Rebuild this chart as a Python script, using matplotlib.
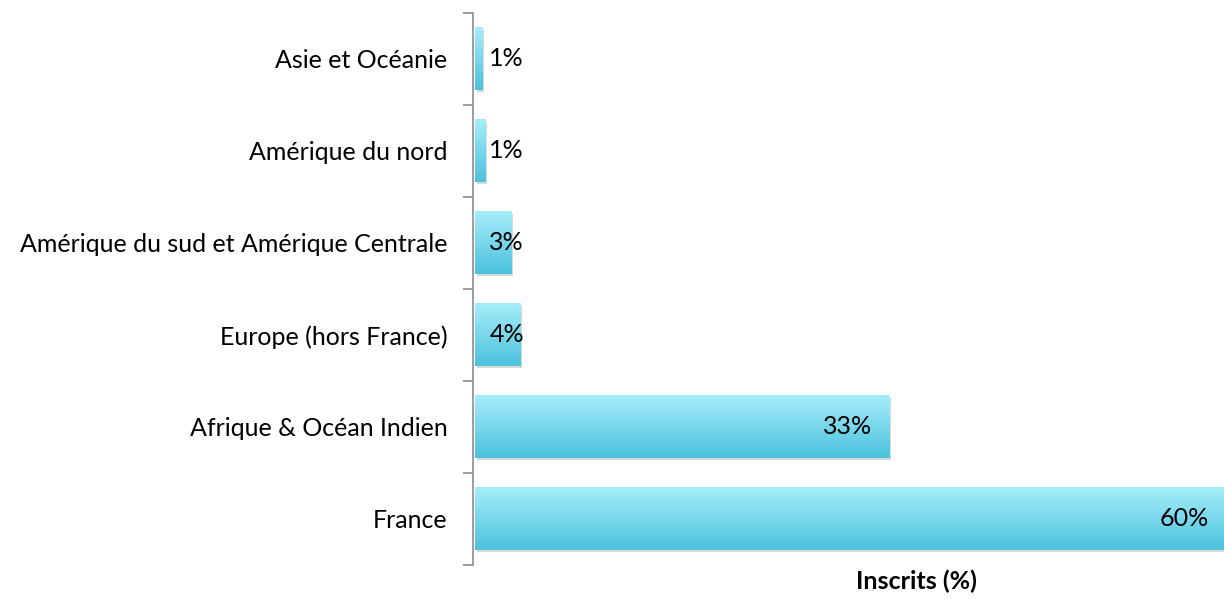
import matplotlib
matplotlib.use("Agg")
import matplotlib.pyplot as plt
import matplotlib.transforms as mtransforms
from matplotlib.colors import LinearSegmentedColormap
import numpy as np

# bottom to top
regions = ["France", "Afrique & Océan Indien", "Europe (hors France)",
           "Amérique du sud et Amérique Centrale", "Amérique du nord",
           "Asie et Océanie"]
inscrits = [60.0, 33.1, 3.6, 2.9, 0.8, 0.6]
labels = ["60%", "33%", "4%", "3%", "1%", "1%"]

plt.rcParams['font.family'] = ['Lato', 'DejaVu Sans']
fs = 18

fig = plt.figure(figsize=(12.24, 5.99), dpi=100)
ax = fig.add_axes([473/1224, 34/599, 751/1224, 552/599])

cmap = LinearSegmentedColormap.from_list("bar", ["#4bc2dd", "#a6edfa"])
grad = np.linspace(0, 1, 100).reshape(-1, 1)
h = 0.68

shadow = ax.transData + mtransforms.ScaledTranslation(1.5/72, -1.5/72, fig.dpi_scale_trans)

for i, (v, lab) in enumerate(zip(inscrits, labels)):
    ax.barh(i, v, height=h, left=0.15, color="#000000", alpha=0.15,
            transform=shadow, zorder=1)
    ax.imshow(grad, extent=[0.15, v + 0.15 if v < 59 else v, i - h/2, i + h/2],
              origin="lower", aspect="auto", cmap=cmap, zorder=2)
    if v < 5:
        ax.text(1.3, i, lab, ha="left", va="center", fontsize=fs, zorder=3)
    else:
        ax.text(v - 1.2, i, lab, ha="right", va="center", fontsize=fs, zorder=3)

ax.set_xlim(0, 60)
ax.set_ylim(-0.5, len(regions) - 0.5)
ax.set_yticks(range(len(regions)))
ax.set_yticklabels(regions, fontsize=fs)
ax.tick_params(axis="y", which="major", length=0, pad=18.5)
ax.set_yticks(np.arange(-0.5, len(regions)), minor=True)
ax.tick_params(axis="y", which="minor", length=7, color="#8c8c8c", width=1.2)
ax.set_xticks([])

for s in ["top", "right", "bottom"]:
    ax.spines[s].set_visible(False)
ax.spines["left"].set_color("#8c8c8c")
ax.spines["left"].set_linewidth(1.2)

ax.text(0.59, -0.03, "Inscrits (%)", transform=ax.transAxes, ha="center",
        va="center", fontsize=fs, fontweight="bold")

fig.savefig("out.png", dpi=100)
